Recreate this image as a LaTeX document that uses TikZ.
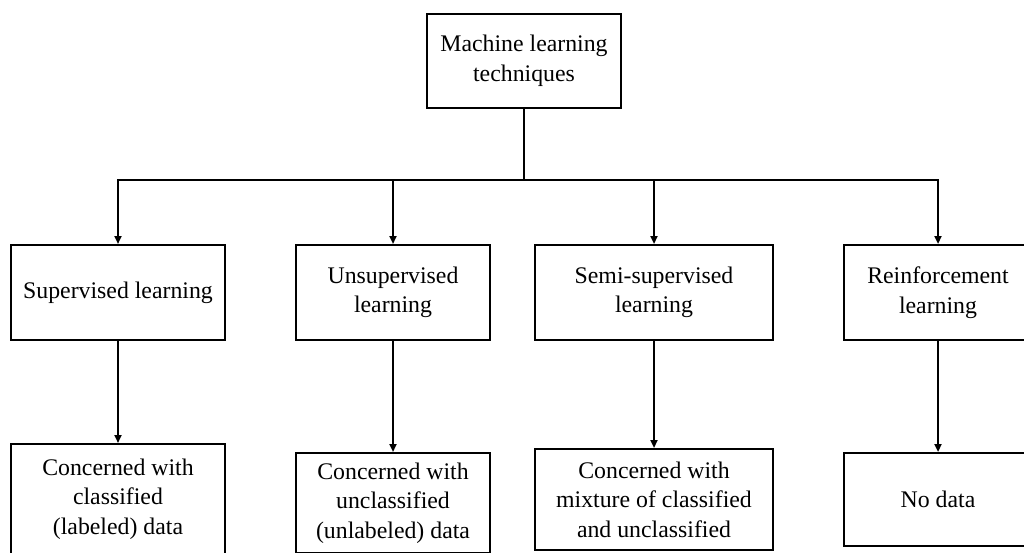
\documentclass[tikz,border=0pt]{standalone}
\usepackage{fontspec}
\setmainfont{Liberation Serif}
\usetikzlibrary{arrows.meta}
\begin{document}
\begin{tikzpicture}[x=1pt,y=-1pt,
  box/.style={draw=black,line width=2pt,fill=white,inner sep=0pt,align=center,
    font=\fontsize{23.8}{29.5}\selectfont},
  conn/.style={line width=2pt},
  arr/.style={conn,-{Triangle[length=8pt,width=7pt]}}]
\useasboundingbox (0,0) rectangle (1024,552);
\fill[white] (0,0) rectangle (1024,552);
\node[box,minimum width=194pt,minimum height=94pt] (top) at (524,61) {Machine learning\\techniques};
\node[box,minimum width=214pt,minimum height=95pt] (s1) at (118,292.5) {Supervised learning};
\node[box,minimum width=194pt,minimum height=95pt] (s2) at (393,292.5) {Unsupervised\\learning};
\node[box,minimum width=238pt,minimum height=95pt] (s3) at (654,292.5) {Semi-supervised\\learning};
\node[box,minimum width=188pt,minimum height=95pt] (s4) at (938,292.5) {Reinforcement\\learning};
\node[box,minimum width=214pt,minimum height=110pt] (d1) at (118,499) {Concerned with\\classified\\(labeled) data};
\node[box,minimum width=194pt,minimum height=100pt] (d2) at (393,503) {Concerned with\\unclassified\\(unlabeled) data};
\node[box,minimum width=238pt,minimum height=101pt] (d3) at (654,499.5) {Concerned with\\mixture of classified\\and unclassified};
\node[box,minimum width=188pt,minimum height=93pt] (d4) at (938,499.5) {No data};
\coordinate (bus) at (524,180);
\draw[conn] (top) -- (bus);
\draw[arr] (bus) -| (s1);
\draw[arr] (bus) -| (s2);
\draw[arr] (bus) -| (s3);
\draw[arr] (bus) -| (s4);
\draw[arr] (s1) -- (d1);
\draw[arr] (s2) -- (d2);
\draw[arr] (s3) -- (d3);
\draw[arr] (s4) -- (d4);
\end{tikzpicture}
\end{document}
